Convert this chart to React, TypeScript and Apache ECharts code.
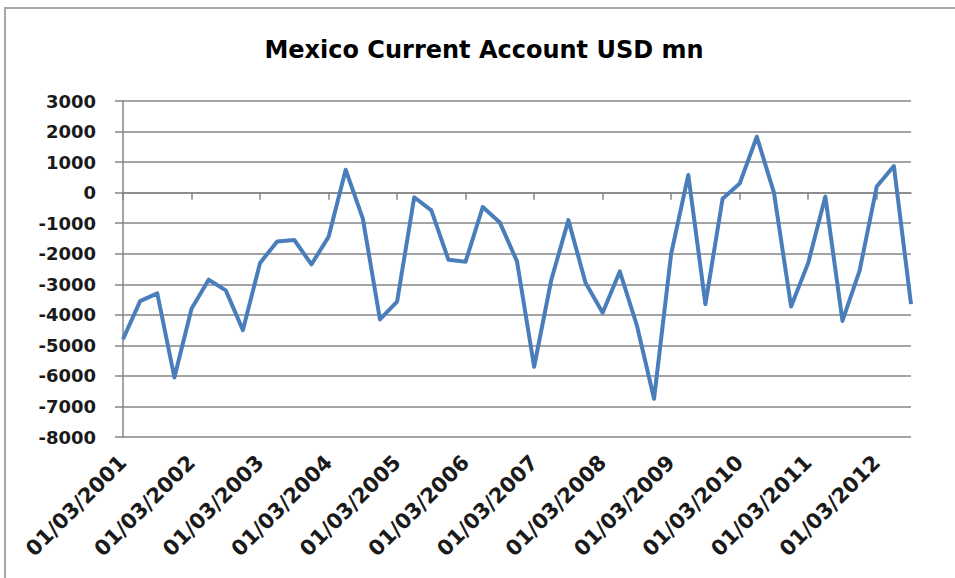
import React, { useEffect, useRef } from "react";
import * as echarts from "echarts";

const years = [2001, 2002, 2003, 2004, 2005, 2006, 2007, 2008, 2009, 2010, 2011, 2012];
const quarterMonths = ["03", "06", "09", "12"];
const lastYearQuarters = 3;

const currentAccount = [
  -4800, -3550, -3300, -6050,
  -3800, -2850, -3200, -4500,
  -2300, -1600, -1550, -2350,
  -1450, 750, -850, -4150,
  -3570, -150, -580, -2200,
  -2260, -470, -980, -2250,
  -5700, -2860, -900, -2950,
  -3930, -2580, -4350, -6750,
  -2000, 580, -3650, -200,
  300, 1830, 0, -3730,
  -2300, -130, -4200, -2550,
  200, 870, -3650,
];

const titleText = "Mexico Current Account USD mn";
const yMin = -8000;
const yMax = 3000;
const yStep = 1000;

const categories: string[] = [];
years.forEach((y, yi) => {
  const n = yi === years.length - 1 ? lastYearQuarters : 4;
  for (let q = 0; q < n; q++) categories.push(`01/${quarterMonths[q]}/${y}`);
});

const FONT = "'DejaVu Sans', sans-serif";

export default function App() {
  const ref = useRef<HTMLDivElement>(null);
  useEffect(() => {
    if (!ref.current) return;
    const chart = echarts.init(ref.current, undefined, { renderer: "svg" });
    chart.setOption({
      animation: false,
      backgroundColor: "#ffffff",
      graphic: [
        {
          type: "rect",
          shape: { x: 5, y: 8, width: 1200, height: 1200 },
          style: { fill: "none", stroke: "#a6a6a6", lineWidth: 2 },
          silent: true,
        },
        {
          type: "text",
          x: 484,
          y: 50,
          style: {
            text: titleText,
            fontFamily: FONT,
            fontSize: 24,
            fontWeight: "bold",
            fill: "#000000",
            textAlign: "center",
            textVerticalAlign: "middle",
          },
        },
      ],
      grid: { left: 123, right: 44, top: 101, bottom: 141, containLabel: false },
      xAxis: {
        type: "category",
        data: categories,
        boundaryGap: false,
        axisLine: { show: true, lineStyle: { color: "#868686", width: 1.5 } },
        axisTick: {
          show: true,
          interval: 3,
          length: 7,
          lineStyle: { color: "#868686", width: 1.5 },
        },
        axisLabel: {
          interval: 3,
          rotate: 45,
          margin: 22,
          color: "#1a1a1a",
          fontFamily: FONT,
          fontSize: 21,
          fontWeight: "bold",
        },
        splitLine: { show: false },
      },
      yAxis: {
        type: "value",
        min: yMin,
        max: yMax,
        interval: yStep,
        axisLine: { show: true, lineStyle: { color: "#868686", width: 1.5 } },
        axisTick: { show: true, length: 8, lineStyle: { color: "#868686", width: 1.5 } },
        axisLabel: {
          margin: 27,
          color: "#1a1a1a",
          fontFamily: FONT,
          fontSize: 18,
          fontWeight: "bold",
          formatter: (v: number) => String(v),
        },
        splitLine: { show: true, lineStyle: { color: "#868686", width: 1.5 } },
      },
      series: [
        {
          type: "line",
          data: currentAccount,
          showSymbol: false,
          symbol: "none",
          lineStyle: { color: "#4a7ebb", width: 4, join: "round" },
        },
      ],
    });
    return () => chart.dispose();
  }, []);
  return (
    <div
      ref={ref}
      style={{ position: "absolute", left: 0, top: 0, width: 955, height: 578 }}
    />
  );
}
